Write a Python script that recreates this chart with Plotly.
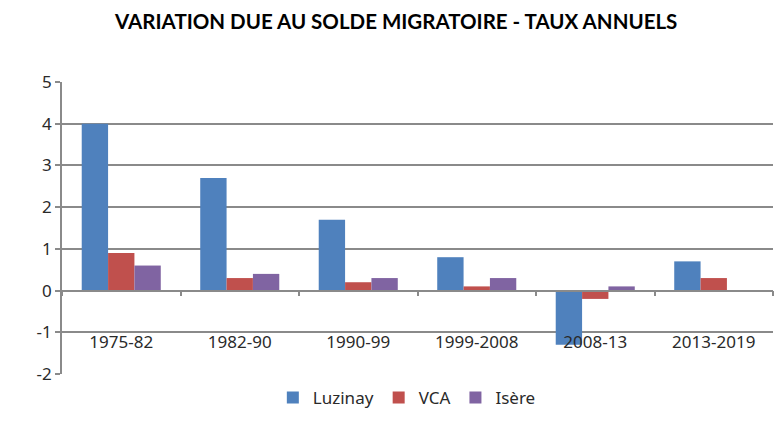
import plotly.graph_objects as go

categories = ["1975-82", "1982-90", "1990-99", "1999-2008", "2008-13", "2013-2019"]
luzinay = [4.0, 2.7, 1.7, 0.8, -1.3, 0.7]
vca = [0.9, 0.3, 0.2, 0.1, -0.2, 0.3]
isere = [0.6, 0.4, 0.3, 0.3, 0.1, None]
y_ticks = [-2, -1, 0, 1, 2, 3, 4, 5]
y_labels = ["-2", "-1", "0", "1", "2", "3", "4", "5"]

series = [("Luzinay", luzinay, "#4F81BD"), ("VCA", vca, "#C0504D"), ("Isère", isere, "#8064A2")]

fig = go.Figure()
for name, vals, col in series:
    fig.add_trace(go.Bar(x=categories, y=vals, name=name, marker=dict(color=col, line=dict(width=0))))

grid = "#8A8A8A"
txt = "#2A2A2A"
fig.update_layout(
    width=783, height=423,
    margin=dict(l=62, r=10, t=82, b=49, autoexpand=False),
    paper_bgcolor="white", plot_bgcolor="white",
    barmode="group", bargap=0.333, bargroupgap=0,
    title=dict(text="<b>VARIATION DUE AU SOLDE MIGRATOIRE - TAUX ANNUELS</b>",
               x=0.506, xanchor="center", y=0.948, yanchor="middle",
               font=dict(family="Lato", size=20.5, color="black")),
    font=dict(family="Noto Sans", size=17, color=txt),
    legend=dict(orientation="h", x=0.485, xanchor="center", y=-0.02, yanchor="top",
                font=dict(size=17, color=txt), itemwidth=30, traceorder="normal"),
    showlegend=True,
)
fig.update_yaxes(range=[-2, 5], tickvals=y_ticks, ticktext=y_labels, showgrid=True, gridcolor=grid, gridwidth=1.6,
                 zeroline=False, showline=True, linecolor=grid, linewidth=1.6, automargin=False,
                 ticks="outside", ticklen=5, tickwidth=1.6, tickcolor=grid, tickfont=dict(size=17, color=txt))
fig.update_xaxes(anchor="free", position=2/7, showline=True, linecolor=grid, linewidth=1.6, automargin=False,
                 ticks="outside", tickson="boundaries", ticklen=5, tickwidth=1.6, tickcolor=grid,
                 ticklabelstandoff=36, showgrid=False, tickfont=dict(size=17, color=txt))

fig.write_html("out.html", config={"displayModeBar": False},
               post_script="document.body.style.margin='0';document.body.style.overflow='hidden';")
